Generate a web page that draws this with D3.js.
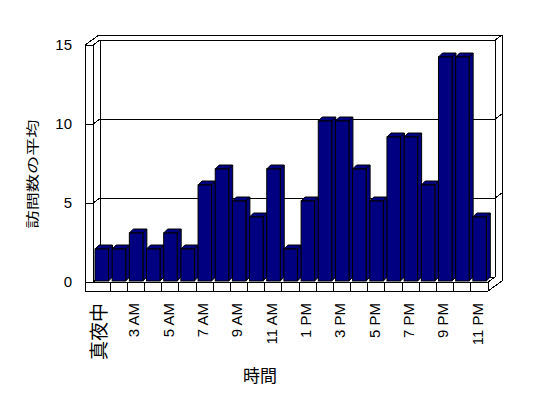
<html>
<head>
<meta charset="utf-8">
<script src="https://d3js.org/d3.v7.min.js"></script>
<style>
body { margin: 0; background: white; }
svg { display: block; background: white; }
.frame line { stroke: black; stroke-width: 1; shape-rendering: crispEdges; }
.bar { fill: #000080; stroke: black; stroke-width: 1; stroke-linejoin: miter; }
.num { font-family: "Liberation Sans", Arial, sans-serif; font-size: 15px; fill: black; }
.jp { font-family: "Noto Sans CJK JP", sans-serif; fill: black; }
</style>
</head>
<body>
<svg id="chart" width="548" height="398"></svg>
<script>
// hourly average visits
var categories = ["真夜中","1 AM","3 AM","4 AM","5 AM","6 AM","7 AM","8 AM","9 AM","10 AM","11 AM","正午",
                  "1 PM","2 PM","3 PM","4 PM","5 PM","6 PM","7 PM","8 PM","9 PM","10 PM","11 PM"];
var values = [2,2,3,2,3,2,6,7,5,4,7,2,5,10,10,7,5,9,9,6,14,14,4];
var yTicks = [0,5,10,15];
var xLabels = categories.filter(function(d,i){ return i % 2 === 0; });

var svg = d3.select('#chart');

var left = 93, right = 488, outerLeft = 85, floorBottom = 291;
var dx = 7, dy = -5;          // front -> back wall
var bdx = 4, bdy = -4;        // bar depth

var x = d3.scaleBand().domain(categories).range([left, right]);
var y = d3.scaleLinear().domain([0,15]).range([282,45]);
var yBar = d3.scaleLinear().domain([0,15]).range([281,41]);

var frame = svg.append('g').attr('class','frame');
function ln(x1,y1,x2,y2) {
  frame.append('line').attr('x1',x1).attr('y1',y1).attr('x2',x2).attr('y2',y2);
}

var y0 = y(0), y15 = y(15);

// back wall lines + gridlines
yTicks.forEach(function(v){
  ln(left+dx, y(v)+dy, right+dx, y(v)+dy);
  ln(left, y(v), left+dx, y(v)+dy);
  if (v > 0) ln(right+dx, y(v)+dy, right+2*dx, y(v)+2*dy);
  if (v > 0 && v < 15) ln(outerLeft, y(v), left, y(v));
});

// verticals
ln(left, y15, left, y0);
ln(left+dx, y15+dy, left+dx, y0+dy);
ln(right+dx, y15+dy, right+dx, y0+dy);
ln(right+2*dx, y15+2*dy, right+2*dx, floorBottom+2*dy);
ln(outerLeft, y15, outerLeft, floorBottom);

// top of the walls
ln(outerLeft, y15, left, y15);
ln(outerLeft, y15, outerLeft+2*dx, y15+2*dy);
ln(outerLeft+2*dx, y15+2*dy, right+2*dx, y15+2*dy);

// floor
ln(outerLeft, y0, right, y0);
ln(outerLeft, floorBottom, right, floorBottom);
ln(right, y0, right, floorBottom);
ln(right, y0, right+dx, y0+dy);
ln(right, floorBottom, right+2*dx, floorBottom+2*dy);
categories.forEach(function(c,i){
  if (i > 0) ln(x(c), y0, x(c), floorBottom);
});

// bars
var bw = 13.5;
var bars = svg.append('g').selectAll('g').data(values).enter().append('g');
bars.each(function(v,i){
  var g = d3.select(this);
  var bx = x(categories[i]) + 2, yt = yBar(v), yb = yBar(0);
  g.append('path').attr('class','bar')
    .attr('d', d3.line()([[bx+bw,yt],[bx+bw+bdx,yt+bdy],[bx+bw+bdx,yb+bdy],[bx+bw,yb]]) + 'Z');
  g.append('path').attr('class','bar')
    .attr('d', d3.line()([[bx,yt],[bx+bdx,yt+bdy],[bx+bw+bdx,yt+bdy],[bx+bw,yt]]) + 'Z');
  g.append('rect').attr('class','bar')
    .attr('x', bx).attr('y', yt).attr('width', bw).attr('height', yb-yt);
});

// value labels
svg.append('g').selectAll('text').data(yTicks).enter().append('text')
  .attr('class','num')
  .attr('x', 72).attr('y', function(d){ return y(d); })
  .attr('dy','0.36em')
  .attr('text-anchor','end')
  .text(function(d){ return d; });

// category labels
svg.append('g').selectAll('text').data(xLabels).enter().append('text')
  .attr('class', function(d){ return /[A-Z0-9]/.test(d) ? 'num' : 'jp'; })
  .style('font-size', function(d){ return /[A-Z0-9]/.test(d) ? '15px' : '19px'; })
  .attr('text-anchor','end')
  .attr('dy','0.36em')
  .attr('transform', function(d){
    return 'translate(' + (x(d) + x.bandwidth()/2 - 2) + ',303) rotate(-90)';
  })
  .text(function(d){ return d; });

// axis titles
svg.append('text').attr('class','jp')
  .style('font-size','13px')
  .attr('text-anchor','middle')
  .attr('dy','0.36em')
  .attr('transform','translate(32,174) rotate(-90) scale(1.4,1)')
  .text('訪問数の平均');

svg.append('text').attr('class','jp')
  .style('font-size','17px')
  .attr('text-anchor','middle')
  .attr('x', 260).attr('y', 376)
  .attr('dy','0.36em')
  .text('時間');
</script>
</body>
</html>
